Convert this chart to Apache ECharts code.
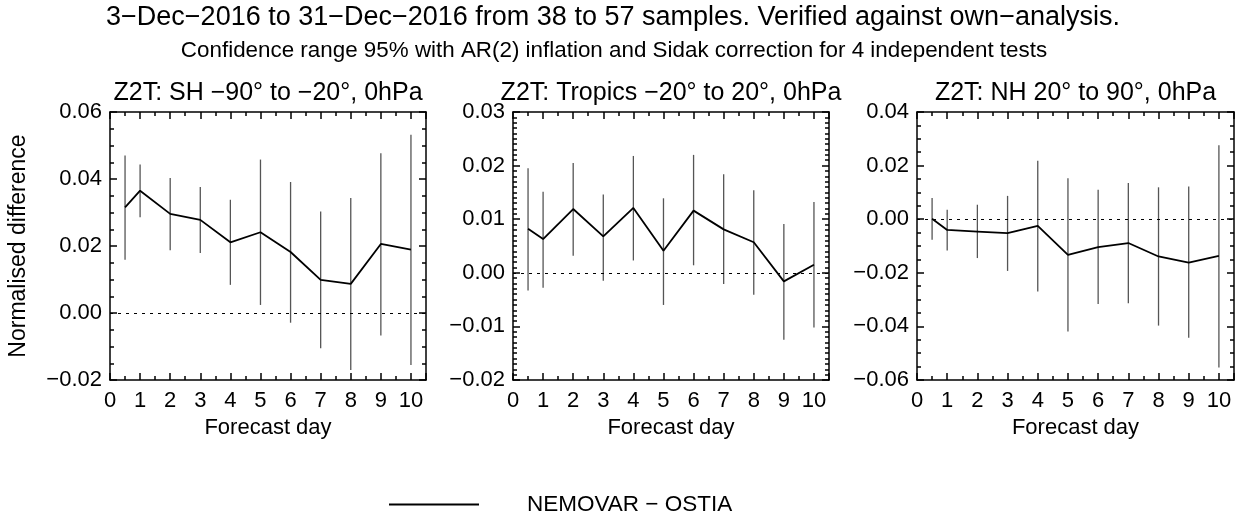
<!DOCTYPE html>
<html>
<head>
<meta charset="utf-8">
<title>Z2T verification</title>
<script src="https://cdn.jsdelivr.net/npm/echarts@6/dist/echarts.min.js"></script>
<style>
  html, body { margin: 0; padding: 0; background: #fff; }
  #main { width: 1241px; height: 513px; }
</style>
</head>
<body>
<div id="main"></div>
<script>
'use strict';
// forecast days (the first point is at half a day)
var days = [0.5, 1, 2, 3, 4, 5, 6, 7, 8, 9, 10];

// SH -90 to -20
var shMean = [0.0315, 0.0365, 0.0296, 0.0278, 0.0211, 0.0241, 0.0182, 0.0099, 0.0087, 0.0206, 0.0189];
var shLow  = [0.0159, 0.0286, 0.0187, 0.0179, 0.0084, 0.0024, -0.0029, -0.0105, -0.0170, -0.0067, -0.0155];
var shHigh = [0.0470, 0.0443, 0.0403, 0.0376, 0.0338, 0.0458, 0.0391, 0.0303, 0.0343, 0.0477, 0.0532];

// Tropics -20 to 20
var trMean = [0.0082, 0.0063, 0.0119, 0.0068, 0.0121, 0.0041, 0.0116, 0.0081, 0.0057, -0.0016, 0.0015];
var trLow  = [-0.0033, -0.0028, 0.0032, -0.0015, 0.0023, -0.0060, 0.0014, -0.0021, -0.0041, -0.0125, -0.0102];
var trHigh = [0.0195, 0.0151, 0.0205, 0.0146, 0.0218, 0.0139, 0.0220, 0.0184, 0.0154, 0.0091, 0.0132];

// NH 20 to 90
var nhMean = [0.0002, -0.0040, -0.0046, -0.0052, -0.0025, -0.0133, -0.0104, -0.0089, -0.0139, -0.0162, -0.0137];
var nhLow  = [-0.0077, -0.0117, -0.0145, -0.0193, -0.0270, -0.0419, -0.0316, -0.0314, -0.0397, -0.0442, -0.0553];
var nhHigh = [0.0079, 0.0035, 0.0054, 0.0087, 0.0218, 0.0153, 0.0110, 0.0135, 0.0119, 0.0122, 0.0276];

var panelTitles = [
  'Z2T: SH \u221290\u00b0 to \u221220\u00b0, 0hPa',
  'Z2T: Tropics \u221220\u00b0 to 20\u00b0, 0hPa',
  'Z2T: NH 20\u00b0 to 90\u00b0, 0hPa'
];
// y ranges [min, max, interval, minor splits]
var yRanges = [
  [-0.02, 0.06, 0.02, 4],
  [-0.02, 0.03, 0.01, 10],
  [-0.06, 0.04, 0.02, 4]
];
var seriesName = 'NEMOVAR \u2212 OSTIA';

var FONT = 'Liberation Sans';
var gridLeft = [110, 513, 917];
var gridWidth = [316, 316, 317];
var gridTop = 112, gridHeight = 268;

var panels = [
  [shMean, shLow, shHigh],
  [trMean, trLow, trHigh],
  [nhMean, nhLow, nhHigh]
];

function minus(v) {
  return String(v).replace('-', '\u2212');
}

var axisLineStyle = { color: '#000', width: 1.5 };
var tickStyle = { color: '#000', width: 1.5 };

var option = {
  animation: false,
  backgroundColor: '#fff',
  textStyle: { fontFamily: FONT, color: '#000' },
  title: [
    {
      text: '3\u2212Dec\u22122016 to 31\u2212Dec\u22122016 from 38 to 57 samples. Verified against own\u2212analysis.',
      left: 613, top: 4, textAlign: 'center', padding: 0,
      textStyle: { fontFamily: FONT, fontSize: 27, fontWeight: 'normal', color: '#000' }
    },
    {
      text: 'Confidence range 95% with AR(2) inflation and Sidak correction for 4 independent tests',
      left: 614, top: 40, textAlign: 'center', padding: 0,
      textStyle: { fontFamily: FONT, fontSize: 22.4, fontWeight: 'normal', color: '#000' }
    }
  ],
  legend: {
    left: 384, top: 488,
    itemWidth: 90, itemHeight: 2,
    icon: 'rect',
    data: [seriesName],
    textStyle: { fontFamily: FONT, fontSize: 22.5, color: '#000', padding: [0, 0, 10, 43] },
    itemStyle: { color: '#000' }
  },
  grid: [],
  xAxis: [],
  yAxis: [],
  series: []
};

for (var i = 0; i < 3; i++) {
  option.title.push({
    text: panelTitles[i],
    left: gridLeft[i] + gridWidth[i] / 2, top: 81, textAlign: 'center', padding: 0,
    textStyle: { fontFamily: FONT, fontSize: 25, fontWeight: 'normal', color: '#000' }
  });
  option.grid.push({
    left: gridLeft[i], top: gridTop, width: gridWidth[i], height: gridHeight,
    containLabel: false
  });

  var yr = yRanges[i];
  // bottom x axis with labels
  option.xAxis.push({
    type: 'value', gridIndex: i, min: 0, max: 10.5, interval: 1,
    position: 'bottom',
    name: 'Forecast day', nameLocation: 'middle', nameGap: 35,
    nameTextStyle: { fontFamily: FONT, fontSize: 22, color: '#000' },
    axisLine: { show: true, onZero: false, lineStyle: axisLineStyle },
    axisTick: { show: true, inside: true, length: 7, lineStyle: tickStyle },
    minorTick: { show: true, splitNumber: 2, length: 4, lineStyle: tickStyle },
    splitLine: { show: false },
    axisLabel: {
      margin: 10, fontFamily: FONT, fontSize: 22, color: '#000',
      formatter: function (v) { return Math.round(v) === v ? String(v) : ''; }
    }
  });
  // top mirror axis
  option.xAxis.push({
    type: 'value', gridIndex: i, min: 0, max: 10.5, interval: 1,
    position: 'top',
    axisLine: { show: true, onZero: false, lineStyle: axisLineStyle },
    axisTick: { show: true, inside: true, length: 7, lineStyle: tickStyle },
    minorTick: { show: true, splitNumber: 2, length: 4, lineStyle: tickStyle },
    splitLine: { show: false },
    axisLabel: { show: false }
  });
  // left y axis with labels
  option.yAxis.push({
    type: 'value', gridIndex: i, min: yr[0], max: yr[1], interval: yr[2],
    position: 'left',
    name: i === 0 ? 'Normalised difference' : '',
    nameLocation: 'middle', nameGap: 80, nameRotate: 90,
    nameTextStyle: { fontFamily: FONT, fontSize: 23, color: '#000' },
    axisLine: { show: true, onZero: false, lineStyle: axisLineStyle },
    axisTick: { show: true, inside: true, length: 7, lineStyle: tickStyle },
    minorTick: { show: true, splitNumber: yr[3], length: 4, lineStyle: tickStyle },
    splitLine: { show: false },
    axisLabel: {
      margin: 8, fontFamily: FONT, fontSize: 22, color: '#000',
      formatter: function (v) { return minus(v.toFixed(2)); }
    }
  });
  // right mirror axis
  option.yAxis.push({
    type: 'value', gridIndex: i, min: yr[0], max: yr[1], interval: yr[2],
    position: 'right',
    axisLine: { show: true, onZero: false, lineStyle: axisLineStyle },
    axisTick: { show: true, inside: true, length: 7, lineStyle: tickStyle },
    minorTick: { show: true, splitNumber: yr[3], length: 4, lineStyle: tickStyle },
    splitLine: { show: false },
    axisLabel: { show: false }
  });

  var p = panels[i];
  var barData = [];
  var lineData = [];
  for (var k = 0; k < days.length; k++) {
    barData.push([days[k], p[1][k], p[2][k]]);
    lineData.push([days[k], p[0][k]]);
  }

  // confidence range bars
  option.series.push({
    type: 'custom',
    xAxisIndex: i * 2, yAxisIndex: i * 2,
    silent: true,
    encode: { x: 0, y: [1, 2] },
    data: barData,
    renderItem: function (params, api) {
      var lo = api.coord([api.value(0), api.value(1)]);
      var hi = api.coord([api.value(0), api.value(2)]);
      return {
        type: 'line',
        shape: { x1: lo[0], y1: lo[1], x2: hi[0], y2: hi[1] },
        style: { stroke: '#555', lineWidth: 1.3 }
      };
    },
    z: 2
  });

  // mean difference line with zero reference
  option.series.push({
    name: seriesName,
    type: 'line',
    xAxisIndex: i * 2, yAxisIndex: i * 2,
    data: lineData,
    symbol: 'none',
    lineStyle: { color: '#000', width: 1.8 },
    itemStyle: { color: '#000' },
    markLine: {
      silent: true,
      symbol: ['none', 'none'],
      label: { show: false },
      lineStyle: { color: '#000', width: 1, type: [3, 5] },
      data: [{ yAxis: 0 }]
    },
    z: 3
  });
}

var chart = echarts.init(document.getElementById('main'));
chart.setOption(option);
</script>
</body>
</html>
